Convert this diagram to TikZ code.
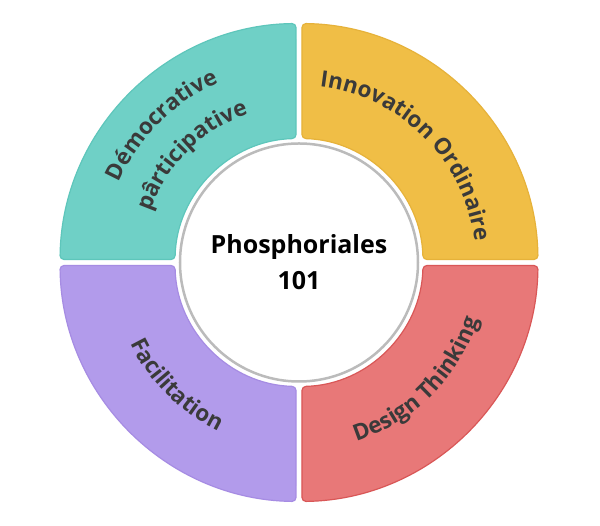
\documentclass[tikz,border=0pt]{standalone}
\usepackage{fontspec}
\setmainfont{Open Sans}
\usetikzlibrary{decorations.text}
\definecolor{tealf}{HTML}{6FD0C6}
\definecolor{tealb}{HTML}{5EC6BB}
\definecolor{yelf}{HTML}{F0BE46}
\definecolor{yelb}{HTML}{E6B23A}
\definecolor{redf}{HTML}{E87878}
\definecolor{redb}{HTML}{D95757}
\definecolor{purf}{HTML}{B29BEB}
\definecolor{purb}{HTML}{A68CE3}
\definecolor{labelc}{HTML}{3A3A3A}
\definecolor{ringc}{HTML}{BBBBBB}
\newcommand\segpath{(90.72:239) arc[start angle=90.72, end angle=179.28, radius=239] -- (178.62:124) arc[start angle=178.62, end angle=91.38, radius=124] -- cycle}
\tikzset{
  seg/.style={line width=1.2pt, rounded corners=4pt},
  lbl/.style={decorate, decoration={text along path, text align=center, text color=labelc, text={#1}}}
}
\begin{document}
\begin{tikzpicture}[x=1pt,y=1pt]
\useasboundingbox (-299,-263.5) rectangle (301,262.5);
\fill[white] (-299,-263.5) rectangle (301,262.5);
\begin{scope}
  \draw[seg, fill=tealf, draw=tealb] \segpath;
\end{scope}
\begin{scope}[rotate=-90]
  \draw[seg, fill=yelf, draw=yelb] \segpath;
\end{scope}
\begin{scope}[rotate=180]
  \draw[seg, fill=redf, draw=redb] \segpath;
\end{scope}
\begin{scope}[rotate=90]
  \draw[seg, fill=purf, draw=purb] \segpath;
\end{scope}
\draw[line width=2.5pt, draw=ringc, fill=white] (0,0) circle[radius=119];
\node[font=\fontsize{25}{36}\selectfont\bfseries, align=center, text=black] (center) at (0,0) {Phosphoriales\\101};
\path[lbl={|\fontsize{22.5}{26}\selectfont\bfseries|Démocrative}] (180:197) arc[start angle=180, end angle=90, radius=197];
\path[lbl={|\fontsize{22.5}{26}\selectfont\bfseries|pârticipative}] (180:157) arc[start angle=180, end angle=90, radius=157];
\path[lbl={|\fontsize{22.5}{26}\selectfont\bfseries|Innovation Ordinaire}] (90:177) arc[start angle=90, end angle=0, radius=177];
\path[lbl={|\fontsize{22.5}{26}\selectfont\bfseries|Design Thinking}] (-90:188) arc[start angle=-90, end angle=0, radius=188];
\path[lbl={|\fontsize{22.5}{26}\selectfont\bfseries|Facilitation}] (180:187) arc[start angle=180, end angle=270, radius=187];
\end{tikzpicture}
\end{document}
